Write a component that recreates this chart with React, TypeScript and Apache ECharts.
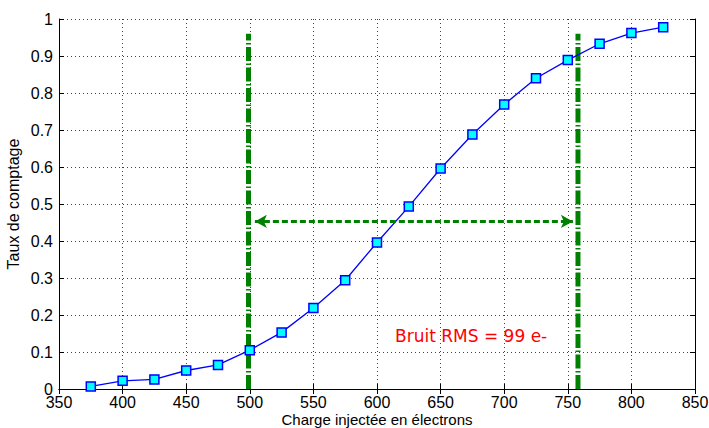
import React, { useEffect, useRef } from "react";
import * as echarts from "echarts";

const charge = [375, 400, 425, 450, 475, 500, 525, 550, 575, 600, 625, 650, 675, 700, 725, 750, 775, 800, 825];
const taux = [0.007, 0.022, 0.026, 0.05, 0.065, 0.105, 0.153, 0.219, 0.294, 0.396, 0.493, 0.596, 0.688, 0.769, 0.84, 0.889, 0.933, 0.962, 0.978];
const bounds = [499, 758];
const boundTop = 0.96;
const arrowEnds = [504, 754];
const arrowY = 0.453;
const noiseText = "Bruit RMS = 99 e-";
const noisePos = [674, 0.142];
const xTitle = "Charge injectée en électrons";
const yTitle = "Taux de comptage";

const GREEN = "#008000";
const FONT = "'Liberation Sans', Arial, sans-serif";

export default function App() {
  const ref = useRef<HTMLDivElement>(null);
  useEffect(() => {
    document.body.style.margin = "0";
    const chart = echarts.init(ref.current!, null, { renderer: "svg" });
    const tickStyle = { inside: true, length: 5, lineStyle: { color: "#000", width: 1 } };
    const axisLineStyle = { show: true, lineStyle: { color: "#000", width: 1 } };
    const splitStyle = { show: true, lineStyle: { color: "#444", width: 1, type: [1, 3] as any } };
    const labelStyle = { color: "#000", fontSize: 16, fontFamily: FONT };
    chart.setOption({
      animation: false,
      backgroundColor: "#fff",
      grid: { left: 59, right: 14, top: 19, bottom: 39, containLabel: false, outerBoundsMode: "none" },
      xAxis: [
        {
          type: "value", min: 350, max: 850, interval: 50, position: "bottom",
          axisLine: axisLineStyle, axisTick: tickStyle, splitLine: splitStyle,
          axisLabel: { ...labelStyle, margin: 5 },
          name: xTitle, nameLocation: "middle", nameGap: 23, nameMoveOverlap: false,
          nameTextStyle: { color: "#000", fontSize: 15, fontFamily: FONT, lineHeight: 15, verticalAlign: "top" },
        },
        {
          type: "value", min: 350, max: 850, interval: 50, position: "top",
          axisLine: axisLineStyle, axisTick: tickStyle, splitLine: { show: false },
          axisLabel: { show: false },
        },
      ],
      yAxis: [
        {
          type: "value", min: 0, max: 1, interval: 0.1, position: "left",
          axisLine: axisLineStyle, axisTick: tickStyle, splitLine: splitStyle,
          axisLabel: { ...labelStyle, margin: 6, formatter: (v: number) => String(Math.round(v * 10) / 10) },
          name: yTitle, nameLocation: "middle", nameGap: 38, nameRotate: 90, nameMoveOverlap: false,
          nameTextStyle: { color: "#000", fontSize: 16, fontFamily: FONT },
        },
        {
          type: "value", min: 0, max: 1, interval: 0.1, position: "right",
          axisLine: axisLineStyle, axisTick: tickStyle, splitLine: { show: false },
          axisLabel: { show: false },
        },
      ],
      series: [
        {
          type: "line",
          data: [[bounds[0], 0], [bounds[0], boundTop]],
          symbol: "none",
          lineStyle: { color: GREEN, width: 5, type: [14, 2.5, 1.5, 2.5] as any },
          z: 1,
        },
        {
          type: "line",
          data: [[bounds[1], 0], [bounds[1], boundTop]],
          symbol: "none",
          lineStyle: { color: GREEN, width: 5, type: [14, 2.5, 1.5, 2.5] as any },
          z: 1,
        },
        {
          type: "line",
          data: charge.map((c, i) => [c, taux[i]]),
          symbol: "rect",
          symbolSize: 9,
          lineStyle: { color: "#0000ff", width: 1.3 },
          itemStyle: { color: "#00ffff", borderColor: "#0000ff", borderWidth: 1.5 },
          z: 3,
          markLine: {
            silent: true,
            symbol: ["arrow", "arrow"],
            symbolSize: [10, 12],
            label: { show: false },
            lineStyle: { color: GREEN, width: 3, type: [6, 3] as any },
            data: [[{ coord: [arrowEnds[0], arrowY] }, { coord: [arrowEnds[1], arrowY] }]],
          },
        },
        {
          type: "scatter",
          data: [noisePos],
          symbolSize: 0,
          itemStyle: { color: "#ff0000", opacity: 1 },
          label: {
            show: true,
            position: "inside",
            formatter: noiseText,
            color: "#ff0000",
            textBorderWidth: 0,
            textBorderColor: "transparent",
            fontSize: 17,
            fontFamily: "'DejaVu Sans', sans-serif",
          },
          z: 4,
        },
      ],
    });
    return () => chart.dispose();
  }, []);
  return <div ref={ref} style={{ width: 709, height: 428 }} />;
}
